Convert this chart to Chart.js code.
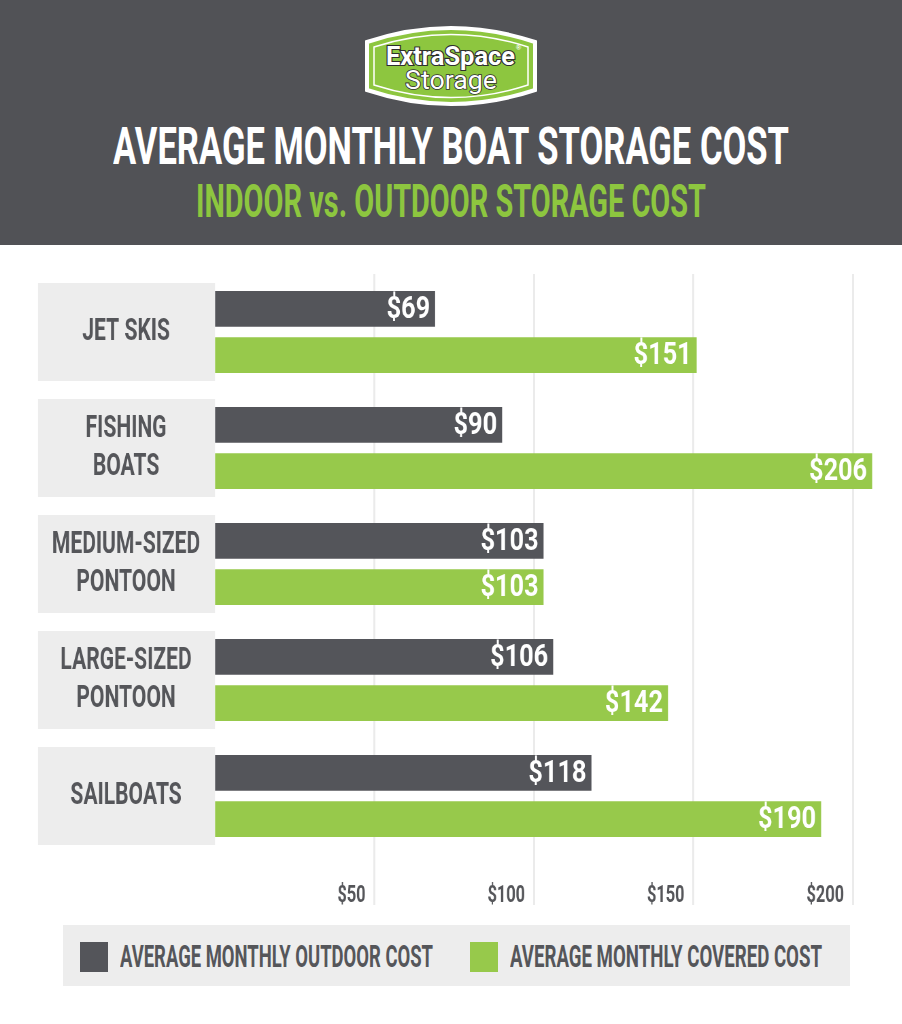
<!DOCTYPE html>
<html>
<head>
<meta charset="utf-8">
<script src="https://cdn.jsdelivr.net/npm/chart.js@4.4.1/dist/chart.umd.min.js"></script>
<style>
  body { margin: 0; width: 902px; height: 1024px; background: #fff; overflow: hidden; position: relative;
         font-family: Roboto, 'Liberation Sans', sans-serif; font-weight: 700; }
  .cabecera { position: absolute; left: 0; top: 0; width: 902px; height: 245px; background: #515256; }
  .logo { position: absolute; left: 361px; top: 24px; }
  .ajuste { position: absolute; white-space: nowrap; transform-origin: 0 0; line-height: 1; }
  .t1 { left: 113px; top: 121px; color: #fff; font-size: 52px; }
  .t2 { left: 196px; top: 177px; color: #8dc63f; font-size: 47px; }
  /* el canvas se comprime en horizontal para imitar la letra condensada */
  .lienzo { position: absolute; left: 0; top: 245px; height: 680px; transform-origin: 0 0; }
  .leyenda { position: absolute; left: 63px; top: 925px; width: 787px; height: 61px; background: #ededed; }
  .caja { position: absolute; top: 17px; width: 28px; height: 30px; }
  .leyenda .ajuste { top: 16px; font-size: 31px; color: #55565a; }
</style>
</head>
<body>
<div class="cabecera">
  <svg class="logo" width="180" height="86" viewBox="0 0 180 86">
    <path d="M6 18 Q90 -10 174 18 L174 66 Q90 94 6 66 Z" fill="#8dc63f" stroke="#fff" stroke-width="4"/>
    <path d="M13 23 Q90 -2 167 23 L167 61 Q90 86 13 61 Z" fill="none" stroke="#fff" stroke-width="1.5"/>
    <text x="25" y="41" textLength="129" lengthAdjust="spacingAndGlyphs" font-family="Roboto, 'Liberation Sans', sans-serif" font-weight="bold" font-size="25" fill="#fff" stroke="#2e2e2e" stroke-width="2.2" paint-order="stroke">ExtraSpace</text>
    <text x="155" y="26" font-family="'Liberation Sans', sans-serif" font-size="7" fill="#fff">®</text>
    <text x="44" y="65" textLength="92" lengthAdjust="spacingAndGlyphs" font-family="Roboto, 'Liberation Sans', sans-serif" font-weight="normal" font-size="26" fill="#fff" stroke="#2e2e2e" stroke-width="1.6" paint-order="stroke">Storage</text>
  </svg>
  <div class="ajuste t1" data-ancho="676">AVERAGE MONTHLY BOAT STORAGE COST</div>
  <div class="ajuste t2" data-ancho="510">INDOOR vs. OUTDOOR STORAGE COST</div>
</div>

<div class="lienzo" id="lienzo"><canvas id="grafica-botes"></canvas></div>

<div class="leyenda">
  <div class="caja" style="left:17px;background:#54555a"></div>
  <div class="ajuste" style="left:57px" data-ancho="313">AVERAGE MONTHLY OUTDOOR COST</div>
  <div class="caja" style="left:407px;background:#97c94b"></div>
  <div class="ajuste" style="left:447px" data-ancho="312">AVERAGE MONTHLY COVERED COST</div>
</div>

<script>
(function() {
    const categorias = [
        'JET SKIS',
        ['FISHING', 'BOATS'],
        ['MEDIUM-SIZED', 'PONTOON'],
        ['LARGE-SIZED', 'PONTOON'],
        'SAILBOATS'
    ];
    const costoExterior = [69, 90, 103, 106, 118];
    const costoCubierto = [151, 206, 103, 142, 190];
    const marcas = [50, 100, 150, 200];

    const escala = 0.68;          // compresion horizontal del canvas
    const px = v => v / escala;    // pixeles de pagina -> pixeles del canvas
    const fuente = "Roboto, 'Liberation Sans', sans-serif";
    const gris = '#55565a';

    const anchoCanvas = Math.round(902 / escala);
    const lienzo = document.getElementById('lienzo');
    lienzo.style.width = anchoCanvas + 'px';
    lienzo.style.transform = 'scaleX(' + escala + ')';
    const ctx = document.getElementById('grafica-botes');
    ctx.width = anchoCanvas;
    ctx.height = 680;
    ctx.style.width = anchoCanvas + 'px';
    ctx.style.height = '680px';

    // Textos del encabezado y la leyenda ajustados a su ancho
    document.querySelectorAll('.ajuste').forEach(el => {
        const ancho = el.getBoundingClientRect().width;
        el.style.transform = 'scaleX(' + (el.dataset.ancho / ancho) + ')';
    });

    // Centrar las categorias dentro de la caja gris
    const medidor = document.createElement('canvas').getContext('2d');
    medidor.font = 'bold 31px ' + fuente;
    const masAncha = Math.max(...categorias.flat().map(t => medidor.measureText(t).width));
    const anchoEje = px(215 - 38);
    const porDolar = px(638 / 200);

    const cajas = {
        id: 'cajas',
        beforeDraw(chart) {
            const { ctx, scales } = chart;
            ctx.save();
            ctx.fillStyle = '#ededed';
            categorias.forEach((c, i) => {
                const y = scales.y.getPixelForValue(i);
                ctx.fillRect(px(38), y - 49, anchoEje, 98);
            });
            ctx.restore();
        }
    };

    // Valores en blanco al final de cada barra
    const etiquetas = {
        id: 'etiquetas',
        afterDatasetsDraw(chart) {
            const { ctx } = chart;
            chart.data.datasets.forEach((ds, d) => {
                chart.getDatasetMeta(d).data.forEach((barra, i) => {
                    ctx.save();
                    ctx.translate(barra.x - px(5), barra.y + 1);
                    ctx.scale(1.2, 1);
                    ctx.fillStyle = '#fff';
                    ctx.font = 'bold 31px ' + fuente;
                    ctx.textAlign = 'right';
                    ctx.textBaseline = 'middle';
                    ctx.fillText('$' + ds.data[i], 0, 0);
                    ctx.restore();
                });
            });
        }
    };

    new Chart(ctx, {
        type: 'bar',
        data: {
            labels: categorias,
            datasets: [{
                label: 'AVERAGE MONTHLY OUTDOOR COST',
                data: costoExterior,
                backgroundColor: '#54555a'
            }, {
                label: 'AVERAGE MONTHLY COVERED COST',
                data: costoCubierto,
                backgroundColor: '#97c94b'
            }]
        },
        options: {
            indexAxis: 'y',
            responsive: false,
            animation: false,
            layout: { padding: { left: px(38), top: 29, right: anchoCanvas - px(215) - 210 * porDolar, bottom: 11 } },
            datasets: { bar: { categoryPercentage: 0.8, barPercentage: 0.77 } },
            scales: {
                x: {
                    min: 0,
                    max: 210,
                    afterFit: scale => {
                        scale.height = 60;
                        scale.paddingLeft = 0;
                        scale.paddingRight = 0;
                    },
                    afterBuildTicks: scale => { scale.ticks = marcas.map(v => ({ value: v })); },
                    border: { display: false },
                    grid: { color: '#ebebeb', lineWidth: 3, tickLength: 51, drawTicks: true },
                    ticks: {
                        align: 'end',
                        labelOffset: -px(9),
                        padding: -23,
                        color: gris,
                        font: { family: fuente, size: 24, weight: 'bold' },
                        callback: v => '$' + v
                    }
                },
                y: {
                    afterFit: scale => {
                        scale.width = anchoEje;
                        scale.paddingTop = 0;
                        scale.paddingBottom = 0;
                    },
                    border: { display: false },
                    grid: { display: false },
                    ticks: {
                        crossAlign: 'center',
                        padding: anchoEje / 2 - masAncha / 2 - px(5),
                        color: gris,
                        font: { family: fuente, size: 31, weight: 'bold', lineHeight: 38 / 31 }
                    }
                }
            },
            plugins: {
                legend: { display: false },
                tooltip: { enabled: false }
            }
        },
        plugins: [cajas, etiquetas]
    });
})();
</script>
</body>
</html>
